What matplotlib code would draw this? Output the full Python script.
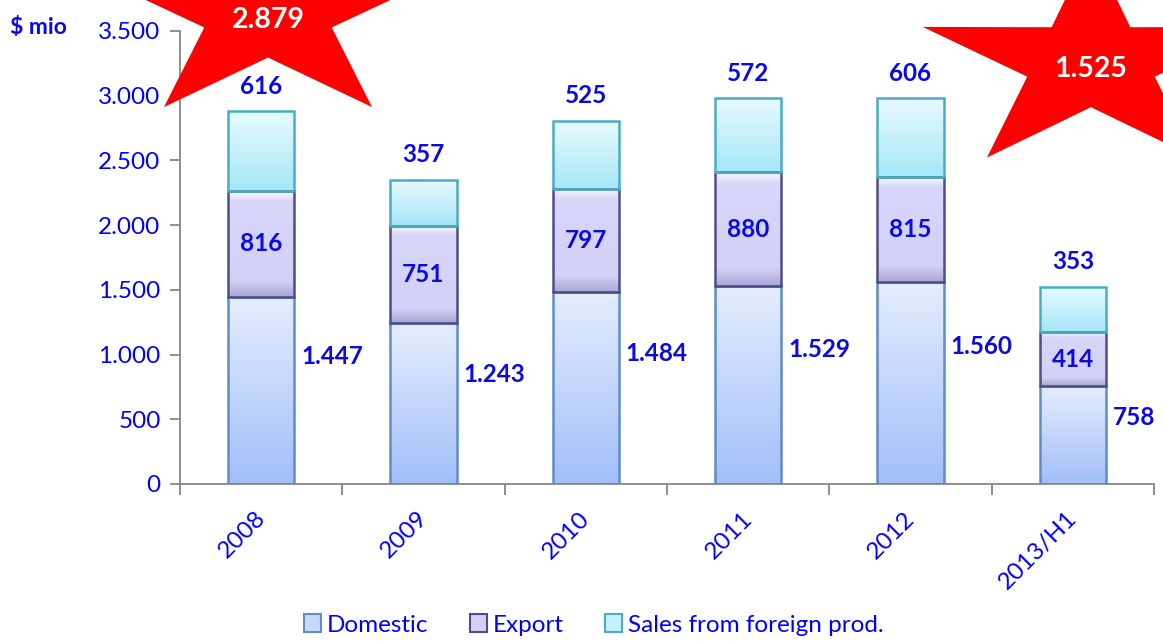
import numpy as np
import matplotlib.pyplot as plt
from matplotlib.patches import Polygon, Patch
from matplotlib.colors import to_rgb
from matplotlib.transforms import ScaledTranslation

plt.rcParams['font.family'] = ['Lato', 'DejaVu Sans']

# dados
anos = ['2008', '2009', '2010', '2011', '2012', '2013/H1']
domestic = [1447, 1243, 1484, 1529, 1560, 758]
export = [816, 751, 797, 880, 815, 414]
foreign = [616, 357, 525, 572, 606, 353]
nomes = ['Domestic', 'Export', 'Sales from foreign prod.']

AZUL = '#0000FF'
AZUL_ESC = '#0A0AE6'
W, H = 1163, 642


def fmt(v):
    return f"{v:,}".replace(',', '.')


def gradiente(ax, barras, cores, pos):
    # preenche cada barra com um degradê vertical (topo -> base)
    cols = np.array([to_rgb(c) for c in cores])
    t = np.linspace(0, 1, 200)
    img = np.stack([np.interp(t, pos, cols[:, k]) for k in range(3)], axis=1)
    img = img[:, None, :]
    for b in barras:
        x, y, w, h = b.get_x(), b.get_y(), b.get_width(), b.get_height()
        ax.imshow(img, extent=[x, x + w, y, y + h], aspect='auto',
                  origin='upper', zorder=1, interpolation='bilinear')


fig = plt.figure(figsize=(W / 100, H / 100), dpi=100)
ax = fig.add_axes([180 / W, 1 - 484 / H, (1154 - 180) / W, (484 - 31) / H])

x = np.arange(len(anos))
larg = 0.41
d = np.array(domestic)
e = np.array(export)
f = np.array(foreign)

b1 = ax.bar(x, d, larg, facecolor='none', edgecolor='#5F8DC6', lw=1.8, zorder=3)
b2 = ax.bar(x, e, larg, bottom=d, facecolor='none', edgecolor='#4E4E86', lw=1.8, zorder=3)
b3 = ax.bar(x, f, larg, bottom=d + e, facecolor='none', edgecolor='#4BACC6', lw=1.8, zorder=3)

gradiente(ax, b1, ['#E4EDFD', '#A2BFFA'], [0, 1])
gradiente(ax, b2, ['#FBFBFF', '#D8D6F9', '#D2D0F6', '#A8A6D6'], [0, 0.1, 0.85, 1])
gradiente(ax, b3, ['#E8FAFE', '#A5E7F8'], [0, 1])

ax.set_xlim(-0.5, len(anos) - 0.5)
ax.set_ylim(0, 3500)

# eixos
for s in ['top', 'right']:
    ax.spines[s].set_visible(False)
for s in ['left', 'bottom']:
    ax.spines[s].set_color('#868686')
    ax.spines[s].set_linewidth(1.3)

ax.set_yticks(np.arange(0, 3501, 500))
ax.set_yticklabels([fmt(v) for v in range(0, 3501, 500)])
ax.tick_params(axis='y', colors='#868686', labelcolor=AZUL, labelsize=17.5,
               length=7, width=1.3, pad=7)
ax.set_xticks(x)
ax.set_xticklabels(anos, rotation=45, ha='right', va='top')
ax.tick_params(axis='x', which='major', length=0, labelcolor=AZUL,
               labelsize=17.5, pad=17)
desloc = ScaledTranslation(8 / 100, 0, fig.dpi_scale_trans)
for lb in ax.get_xticklabels():
    lb.set_transform(lb.get_transform() + desloc)
ax.set_xticks(np.arange(len(anos) + 1) - 0.5, minor=True)
ax.tick_params(axis='x', which='minor', length=8, width=1.3, colors='#868686')

# rótulos
for i in range(len(anos)):
    ax.text(i + larg / 2 + 0.04, d[i] * 0.68, fmt(d[i]), ha='left', va='center',
            color=AZUL_ESC, fontsize=17.5, fontweight='bold', zorder=5)
    ax.text(i, d[i] + e[i] / 2, fmt(e[i]), ha='center', va='center',
            color=AZUL_ESC, fontsize=17.5, fontweight='bold', zorder=5)
    ax.annotate(fmt(f[i]), (i, d[i] + e[i] + f[i]), xytext=(0, 18),
                textcoords='offset points', ha='center', va='center',
                color=AZUL_ESC, fontsize=17.5, fontweight='bold', zorder=5)

fig.text(10 / W, 1 - 27 / H, '$ mio', ha='left', va='center', color=AZUL_ESC,
         fontsize=16.5, fontweight='bold')


# estrelas com os totais
def estrela(cx, cy, R, r, sy):
    ang = np.deg2rad(90 + 36 * np.arange(10))
    rad = np.where(np.arange(10) % 2 == 0, R, r)
    px = cx + rad * np.cos(ang)
    py = cy - rad * np.sin(ang) * sy
    return np.column_stack([px / W, 1 - py / H])


totais = d + e + f
for (cx, cy, sy), k in [((268, 14, 0.65), 0), ((1091, 63, 0.66), len(anos) - 1)]:
    fig.add_artist(Polygon(estrela(cx, cy, 177, 67, sy), closed=True,
                           facecolor='#FF0000', edgecolor='none',
                           transform=fig.transFigure, zorder=10))
    fig.text(cx / W, 1 - (cy + 6) / H, fmt(totais[k]), ha='center', va='center',
             color='white', fontsize=20.5, fontweight='bold', zorder=11)

# legenda
hs = [Patch(facecolor='#C6D8FB', edgecolor='#5F8DC6', lw=1.5),
      Patch(facecolor='#D3D1F6', edgecolor='#4E4E86', lw=1.5),
      Patch(facecolor='#C8F1FB', edgecolor='#4BACC6', lw=1.5)]
leg = fig.legend(hs, nomes, loc='center', bbox_to_anchor=(594 / W, 1 - 625 / H),
                 ncol=3, frameon=False, fontsize=17.5, handlelength=0.7,
                 handleheight=0.7, handletextpad=0.25, columnspacing=1.7)
for t in leg.get_texts():
    t.set_color(AZUL)

fig.savefig('out.png', dpi=100)
